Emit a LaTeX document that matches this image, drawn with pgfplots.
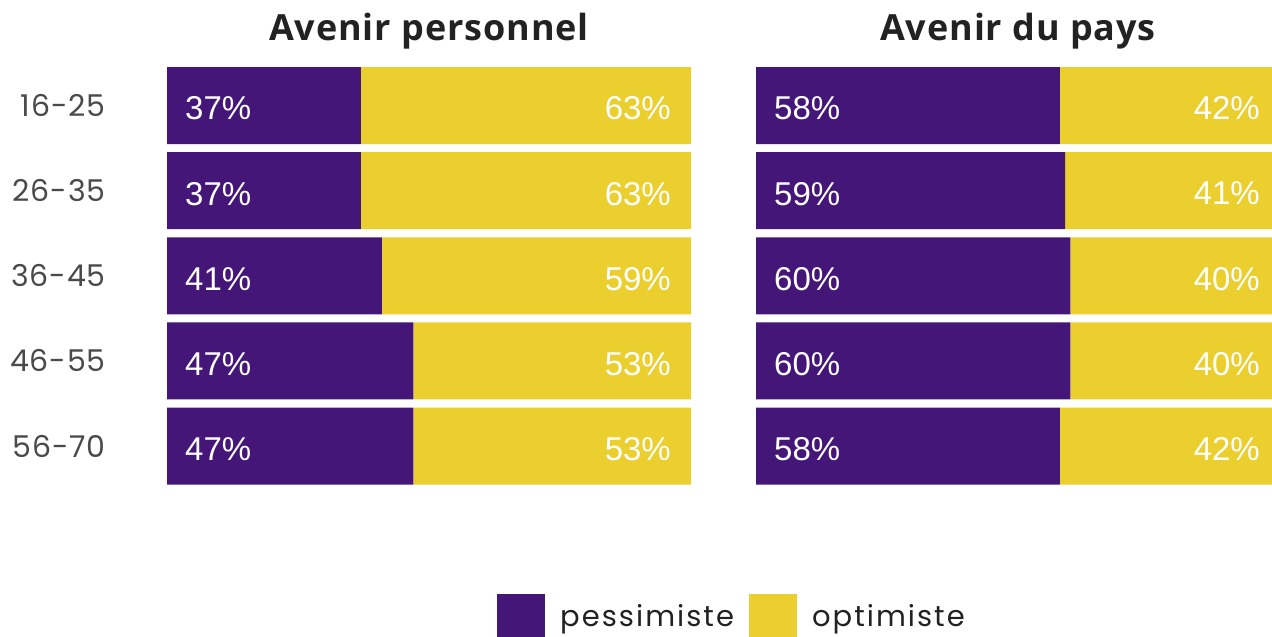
\documentclass[border=0pt]{standalone}
\usepackage{pgfplots}
\pgfplotsset{compat=1.18}
\usepackage{fontspec}
\setmainfont{Liberation Sans}
\newfontfamily\titlefont{Open Sans}[LetterSpace=2.5]
\newfontfamily\legfont{Poppins}[LetterSpace=7]
\newfontfamily\tickfont{Poppins}[LetterSpace=3]
\definecolor{pur}{HTML}{441678}
\definecolor{yel}{HTML}{EBCF2E}
\definecolor{tickgray}{HTML}{4A4A4A}
\definecolor{txt}{HTML}{222222}

\pgfplotsset{
  geom/.style={scale only axis, width=524pt, height=425.6pt,
    xmin=0, xmax=100, ymin=0.5, ymax=5.5, y dir=reverse, clip=false},
  panel/.style={geom, axis line style={draw=none}, xtick=\empty,
    ytick={1,2,3,4,5}, major tick length=0pt,
    xbar stacked, bar width=77pt,
    title style={font=\titlefont\bfseries\fontsize{36}{40}\selectfont, text=txt,
      at={(0.5,1)}, anchor=base, yshift=16pt}},
  labels/.style={geom, hide axis},
  lblL/.style={draw=none, mark=none,
    nodes near coords, point meta=explicit symbolic,
    every node near coord/.append style={anchor=west, inner sep=0pt, xshift=18pt, yshift=-3pt,
      text=white, font=\fontsize{33}{33}\selectfont}},
  lblR/.style={draw=none, mark=none,
    nodes near coords, point meta=explicit symbolic,
    every node near coord/.append style={anchor=east, inner sep=0pt, xshift=-20pt, yshift=-3pt,
      text=white, font=\fontsize{33}{33}\selectfont}},
}

\begin{document}
\begin{tikzpicture}
\useasboundingbox (0,0) rectangle (1272pt,637pt);

% Left panel
\begin{axis}[panel, at={(167pt,148.44pt)}, anchor=south west,
  title={Avenir personnel},
  yticklabels={16-25,26-35,36-45,46-55,56-70},
  yticklabel style={font=\tickfont\fontsize{30}{30}\selectfont, text=tickgray,
    anchor=east, inner sep=0pt, xshift=-61pt},
  legend style={at={(1.0763,-0.3041)}, anchor=center, draw=none, fill=none,
    legend columns=2, column sep=15pt, inner sep=0pt,
    nodes={inner sep=0pt}, font=\legfont\fontsize{29}{29}\selectfont, text=txt},
  legend image code/.code={\fill[#1,draw=none] (0pt,-26pt) rectangle (48pt,22pt);},
]
\addplot[fill=pur, draw=none] coordinates {(37,1) (37,2) (41,3) (47,4) (47,5)};
\addlegendentry{pessimiste}
\addplot[fill=yel, draw=none] coordinates {(63,1) (63,2) (59,3) (53,4) (53,5)};
\addlegendentry{optimiste}
\end{axis}
\begin{axis}[labels, at={(167pt,148.44pt)}, anchor=south west]
\addplot[lblL] coordinates {(0,1) [37\%] (0,2) [37\%] (0,3) [41\%] (0,4) [47\%] (0,5) [47\%]};
\addplot[lblR] coordinates {(100,1) [63\%] (100,2) [63\%] (100,3) [59\%] (100,4) [53\%] (100,5) [53\%]};
\end{axis}

% Right panel
\begin{axis}[panel, at={(756pt,148.44pt)}, anchor=south west,
  title={Avenir du pays}, yticklabels={}]
\addplot[fill=pur, draw=none] coordinates {(58,1) (59,2) (60,3) (60,4) (58,5)};
\addplot[fill=yel, draw=none] coordinates {(42,1) (41,2) (40,3) (40,4) (42,5)};
\end{axis}
\begin{axis}[labels, at={(756pt,148.44pt)}, anchor=south west]
\addplot[lblL] coordinates {(0,1) [58\%] (0,2) [59\%] (0,3) [60\%] (0,4) [60\%] (0,5) [58\%]};
\addplot[lblR] coordinates {(100,1) [42\%] (100,2) [41\%] (100,3) [40\%] (100,4) [40\%] (100,5) [42\%]};
\end{axis}
\end{tikzpicture}
\end{document}
